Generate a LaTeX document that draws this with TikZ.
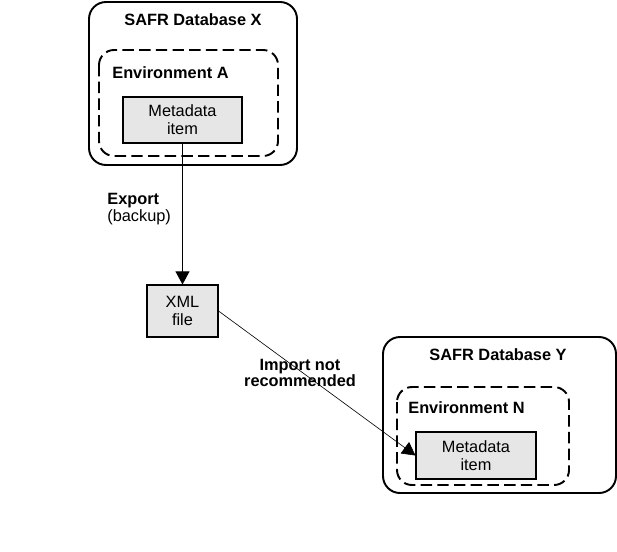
\documentclass[tikz,border=0pt]{standalone}
\usepackage{fontspec}
\setmainfont{Liberation Sans}
\usetikzlibrary{arrows.meta}
\definecolor{itemgray}{RGB}{230,230,230}
\begin{document}
\begin{tikzpicture}[x=0.02cm,y=-0.02cm,
        font=\fontsize{9.3}{10.2}\selectfont,
        db/.style={line width=1.1pt,rounded corners=0.34cm},
        env/.style={line width=1.1pt,rounded corners=0.3cm,dash pattern=on 6.5pt off 3pt},
        item/.style={draw,fill=itemgray,line width=0.6pt,align=center,inner sep=0pt},
        title/.style={font=\fontsize{9.3}{10.2}\selectfont\bfseries,inner sep=0pt},
        tip/.style={-{Triangle[width=8pt,length=7.5pt]}}]
        \useasboundingbox (0,0) rectangle (617,551);
        \draw[db] (89,2) rectangle (297,165);
        \draw[env] (99,50) rectangle (278,156);
        \node[title] (dbxlabel) at (193,20) {SAFR Database X};
        \node[title,anchor=west] (envalabel) at (112,73) {Environment A};
        \node[item,minimum width=2.38cm,minimum height=0.92cm] (itemx) at (182.5,120) {Metadata\\item};
        \node[item,minimum width=1.42cm,minimum height=1.04cm] (xml) at (182.5,311) {XML\\file};
        \draw[db] (383,337) rectangle (616,493);
        \draw[env] (397,387) rectangle (569,485);
        \node[title] (dbylabel) at (498,355) {SAFR Database Y};
        \node[title,anchor=west] (envnlabel) at (408,408) {Environment N};
        \node[item,minimum width=2.4cm,minimum height=0.94cm] (itemy) at (476,455.5) {Metadata\\item};
        \draw[tip,line width=0.6pt] (itemx) -- (xml);
        \draw[tip,line width=0.35pt] (xml.east) -- (itemy.west);
        \node[anchor=west,align=left,inner sep=0pt,font=\fontsize{9.3}{8}\selectfont] (exportlabel) at (107,209) {\textbf{Export}\\(backup)};
        \node[title,align=center,font=\fontsize{9.3}{9}\selectfont\bfseries] (importlabel) at (300,373) {Import not\\recommended};
    \end{tikzpicture}
\end{document}
